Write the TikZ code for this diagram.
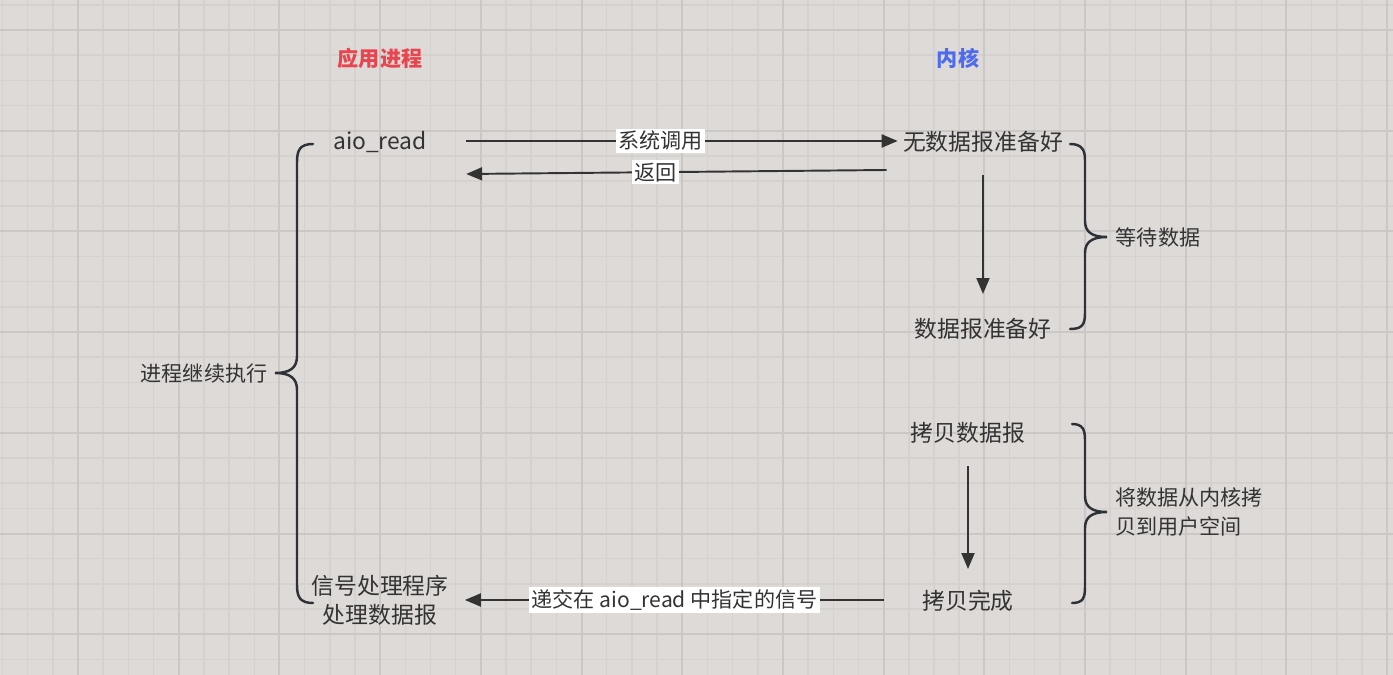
\documentclass[tikz,border=0pt]{standalone}
\usepackage{fontspec}
\setmainfont{Noto Sans CJK SC}
\usepackage{tikz}
\usetikzlibrary{arrows.meta,calc}
\usepackage{xcolor}
\definecolor{bgcol}{HTML}{DEDAD8}
\definecolor{minorcol}{HTML}{D5D1CF}
\definecolor{majorcol}{HTML}{CBC7C5}
\definecolor{inkcol}{HTML}{333333}
\definecolor{bracecol}{HTML}{2E3236}
\definecolor{appred}{HTML}{E9454F}
\definecolor{kernblue}{HTML}{4D6BF0}

\tikzset{
  txt/.style={inner sep=0pt, text=inkcol, font=\fontsize{13}{16.5}\selectfont},
  small/.style={inner sep=0pt, text=inkcol, font=\fontsize{12}{16.5}\selectfont},
  title/.style={inner sep=0pt, font=\fontsize{12}{14}\selectfont\bfseries},
  arr/.style={draw=inkcol, line width=1.1pt, -{Triangle[length=0.32cm,width=0.26cm]}},
  lbl/.style={fill=white, inner sep=1.5pt, text=inkcol, font=\fontsize{12}{14}\selectfont},
  bracestyle/.style={draw=bracecol, line width=1.4pt, line cap=round},
}

\begin{document}
\begin{tikzpicture}[x=0.02cm,y=-0.02cm]
\useasboundingbox (0,0) rectangle (1393,675);
% background grid
\fill[bgcol] (0,0) rectangle (1393,675);
\foreach \i in {0,...,56} {
  \draw[minorcol,line width=0.03cm] (2.5+25.175*\i,0) -- ++(0,675);
}
\foreach \i in {0,...,27} {
  \draw[minorcol,line width=0.03cm] (0,4.8+25.175*\i) -- ++(1393,0);
}
\foreach \i in {0,...,13} {
  \draw[majorcol,line width=0.04cm] (78+100.7*\i,0) -- ++(0,675);
}
\foreach \i in {0,...,6} {
  \draw[majorcol,line width=0.04cm] (0,30+100.7*\i) -- ++(1393,0);
}

% headings
\node[title,text=appred] (app) at (380,58) {应用进程};
\node[title,text=kernblue] (kern) at (958,58) {内核};

% steps
\node[txt] (aio) at (380,142) {aio\_read};
\node[txt] (nodata) at (983,142) {无数据报准备好};
\node[txt] (ready) at (983,329) {数据报准备好};
\node[txt] (copy) at (968,433) {拷贝数据报};
\node[txt] (done) at (968,601) {拷贝完成};
\node[txt,align=center] (handler) at (380,600) {信号处理程序\\处理数据报};

% brace notes
\node[small] (cont) at (204,374) {进程继续执行};
\node[small] (wait) at (1158,237) {等待数据};
\node[small,align=left,anchor=west] (move) at (1115,512) {将数据从内核拷\\贝到用户空间};

% arrows
\draw[arr] ($(aio.east)+(39,-1)$) -- node[lbl,pos=0.45] {系统调用} ($(nodata.west)+(-5,-1)$);
\draw[arr] ($(nodata.west)+(-16,28)$) -- node[lbl,pos=0.55] {返回} ($(aio.east)+(39,32)$);
\draw[arr] ($(nodata.center)+(0,33)$) -- ($(ready.center)+(0,-35)$);
\draw[arr] ($(copy.center)+(0,33)$) -- ($(done.center)+(0,-32)$);
\draw[arr] ($(done.west)+(-38,-1)$) -- node[lbl,midway] {递交在 aio\_read 中指定的信号} ($(handler.east)+(16,0)$);

% braces
\draw[bracestyle] (313,144) .. controls (300,144) and (297,150) .. (297,162) -- (297,356)
  .. controls (297,368) and (290,373) .. (275,373) .. controls (290,373) and (297,378) .. (297,390)
  -- (297,585) .. controls (297,597) and (300,603) .. (313,603);
\draw[bracestyle] (1070,144) .. controls (1082,144) and (1085,150) .. (1085,160) -- (1085,221)
  .. controls (1085,232) and (1092,237) .. (1107,237) .. controls (1092,237) and (1085,242) .. (1085,253)
  -- (1085,313) .. controls (1085,325) and (1082,329) .. (1070,329);
\draw[bracestyle] (1072,424) .. controls (1083,424) and (1085,430) .. (1085,440) -- (1085,496)
  .. controls (1085,507) and (1092,512) .. (1107,512) .. controls (1092,512) and (1085,517) .. (1085,528)
  -- (1085,587) .. controls (1085,598) and (1083,603) .. (1072,603);
\end{tikzpicture}
\end{document}
